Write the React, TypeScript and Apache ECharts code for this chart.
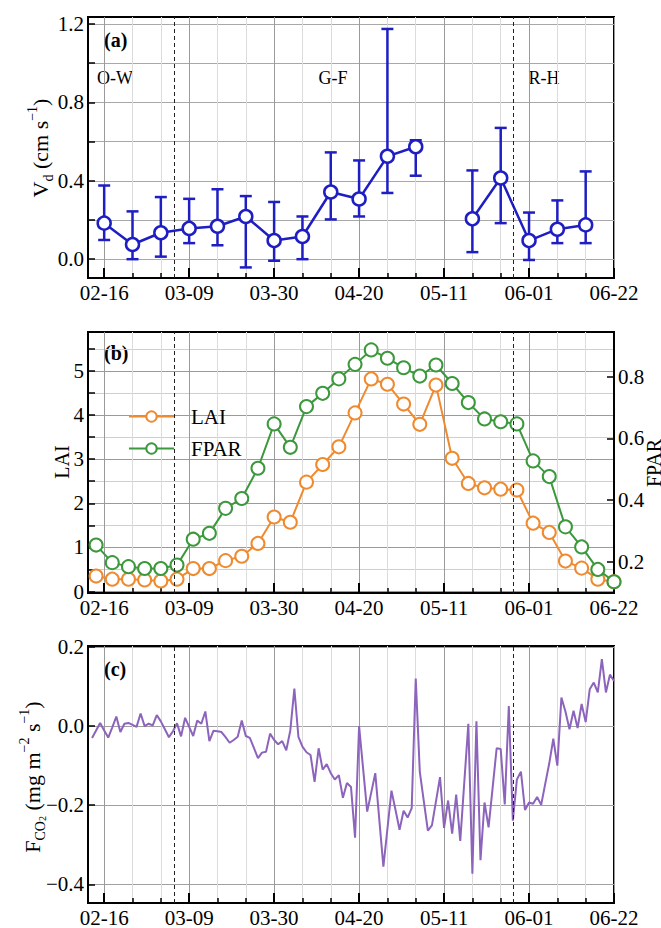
import React, { useEffect, useRef } from 'react';
import * as echarts from 'echarts';

// ---------- shared axis data (days since 02-16) ----------
const xTickDays = [0, 21, 42, 63, 84, 105, 126];
const xTickLabels = ['02-16', '03-09', '03-30', '04-20', '05-11', '06-01', '06-22'];
const xMinorDays = [0, 7, 14, 21, 28, 35, 42, 49, 56, 63, 70, 77, 84, 91, 98, 105, 112, 119, 126];
const phaseBoundaries = [17.4, 101.2];
const phaseNames = ['O-W', 'G-F', 'R-H'];

// ---------- panel (a): Vd ----------
const vdDays = [0, 7, 14, 21, 28, 35, 42, 49, 56, 63, 70, 77, 84, 91, 98, 105, 112, 119];
const vdMean = [0.184, 0.075, 0.135, 0.157, 0.168, 0.218, 0.095, 0.116, 0.343, 0.307, 0.525, 0.574, null, 0.206, 0.414, 0.095, 0.153, 0.175];
const vdLow = [0.098, 0.0, 0.013, 0.082, 0.071, -0.042, -0.008, 0.0, 0.203, 0.218, 0.338, 0.426, null, 0.036, 0.184, -0.004, 0.082, 0.082];
const vdHigh = [0.376, 0.244, 0.317, 0.308, 0.357, 0.322, 0.292, 0.218, 0.545, 0.504, 1.175, 0.607, null, 0.453, 0.670, 0.238, 0.300, 0.448];
const vdTicks = [0, 0.2, 0.4, 0.6, 0.8, 1.0, 1.2];
const vdLabels = [0, 0.4, 0.8, 1.2];

// ---------- panel (b): LAI & FPAR ----------
const laiDays = [-2, 2, 6, 10, 14, 18, 22, 26, 30, 34, 38, 42, 46, 50, 54, 58, 62, 66, 70, 74, 78, 82, 86, 90, 94, 98, 102, 106, 110, 114, 118, 122, 126];
const laiValues = [0.35, 0.28, 0.28, 0.26, 0.24, 0.28, 0.52, 0.52, 0.70, 0.80, 1.09, 1.69, 1.57, 2.48, 2.88, 3.28, 4.05, 4.82, 4.70, 4.25, 3.79, 4.68, 3.02, 2.45, 2.35, 2.32, 2.30, 1.55, 1.34, 0.69, 0.53, 0.28, 0.22];
const fparValues = [0.254, 0.197, 0.184, 0.178, 0.178, 0.189, 0.273, 0.292, 0.373, 0.405, 0.503, 0.647, 0.571, 0.703, 0.746, 0.793, 0.840, 0.887, 0.860, 0.829, 0.802, 0.838, 0.778, 0.716, 0.663, 0.654, 0.647, 0.527, 0.476, 0.313, 0.248, 0.175, 0.135];
const laiTicks = [0, 0.5, 1, 1.5, 2, 2.5, 3, 3.5, 4, 4.5, 5, 5.5];
const laiLabels = [0, 1, 2, 3, 4, 5];
const fparTicks = [0.2, 0.4, 0.6, 0.8];

// ---------- panel (c): FCO2 daily, first day = 02-13 ----------
const fco2StartDay = -3;
const fco2Values = [
  -0.030, -0.011, 0.008, -0.011, -0.029, -0.003, 0.024, -0.015, 0.006, 0.008,
  0.003, -0.002, 0.032, 0.000, 0.006, 0.002, 0.028, 0.012, -0.008, -0.028,
  -0.013, 0.007, -0.026, 0.021, -0.002, -0.025, 0.014, 0.006, 0.037, -0.038,
  -0.012, -0.013, -0.015, -0.028, -0.042, -0.035, -0.027, 0.014, -0.025, -0.030,
  -0.055, -0.081, -0.067, -0.065, -0.019, -0.035, -0.046, -0.038, -0.061, -0.011,
  0.095, -0.027, -0.052, -0.066, -0.073, -0.141, -0.056, -0.110, -0.096, -0.119,
  -0.135, -0.124, -0.181, -0.144, -0.154, -0.282, 0.000, -0.108, -0.216, -0.168,
  -0.119, -0.237, -0.355, -0.260, -0.163, -0.212, -0.262, -0.214, -0.231, -0.207,
  0.120, -0.115, -0.190, -0.264, -0.251, -0.190, -0.129, -0.257, -0.188, -0.272,
  -0.173, -0.290, -0.142, 0.006, -0.373, 0.012, -0.339, -0.193, -0.256, -0.156,
  -0.056, -0.058, -0.198, 0.051, -0.239, -0.135, -0.115, -0.212, -0.193, -0.196,
  -0.179, -0.199, -0.146, -0.094, -0.032, -0.100, 0.072, 0.037, -0.008, 0.039,
  -0.005, 0.056, 0.010, 0.093, 0.110, 0.085, 0.169, 0.085, 0.130, 0.114,
];
const fco2Ticks = [-0.4, -0.2, 0, 0.2];

const FONT = 'Liberation Serif';
const BLUE = '#1e1ec2';
const ORANGE = '#ef8a2e';
const GREEN = '#3c983c';
const PURPLE = '#8c64bc';

const fmtMinus = (v: number) => (v < -1e-9 ? '\u2212' + Math.abs(v).toFixed(1) : Math.abs(v).toFixed(1));

function xAxesFor(gi: number) {
  return [
    {
      type: 'value', gridIndex: gi, min: -4, max: 126, position: 'bottom',
      axisLine: { show: true, onZero: false, lineStyle: { color: '#000', width: 2 } },
      axisTick: { show: true, inside: true, length: 5, customValues: xMinorDays, lineStyle: { color: '#000', width: 1.5 } },
      axisLabel: {
        show: true, customValues: xTickDays, margin: 4,
        formatter: (v: number) => xTickLabels[xTickDays.indexOf(Math.round(v))] ?? '',
        fontFamily: FONT, fontSize: 21, color: '#000',
      },
      splitLine: { show: true, lineStyle: { color: ['#9a9a9a', '#dcdcdc', '#dcdcdc'], width: 1 } },
    },
    {
      type: 'value', gridIndex: gi, min: -4, max: 126, position: 'bottom',
      axisLine: { show: false, onZero: false },
      axisLabel: { show: false },
      splitLine: { show: false },
      axisTick: { show: true, inside: true, length: 10, customValues: xTickDays, lineStyle: { color: '#000', width: 2 } },
    },
  ];
}

function yAxis(gi: number, min: number, max: number, ticks: number[], labels: number[], fmt: (v: number) => string, split: any, position = 'left') {
  return {
    type: 'value', gridIndex: gi, min, max, position,
    axisLine: { show: true, onZero: false, lineStyle: { color: '#000', width: 2 } },
    axisTick: { show: true, inside: true, length: 7, customValues: ticks, lineStyle: { color: '#000', width: 1.5 } },
    axisLabel: { show: true, customValues: labels, formatter: fmt, margin: 4, fontFamily: FONT, fontSize: 21, color: '#000' },
    splitLine: split,
  };
}

const dashedMarks = {
  silent: true,
  symbol: ['none', 'none'],
  label: { show: false },
  lineStyle: { color: '#222', type: [4, 3], width: 1 },
  data: phaseBoundaries.map((d) => ({ xAxis: d })),
};

export default function App() {
  const ref = useRef<HTMLDivElement>(null);
  useEffect(() => {
    document.body.style.margin = '0';
    if (!ref.current) return;
    const chart = echarts.init(ref.current, null, { renderer: 'svg' });

    const errData = vdDays
      .map((d, i) => (vdLow[i] == null ? null : [d, vdLow[i], vdHigh[i]]))
      .filter((x) => x !== null);

    const mainText = { fontFamily: FONT, fontSize: 22, lineHeight: 30, fill: '#000' };
    const supText = { fontFamily: FONT, fontSize: 14, lineHeight: 14, verticalAlign: 'top', fill: '#000' };
    const subText = { fontFamily: FONT, fontSize: 14, lineHeight: 14, verticalAlign: 'bottom', fill: '#000' };
    const sub2Text = { fontFamily: FONT, fontSize: 10, lineHeight: 8, verticalAlign: 'bottom', fill: '#000' };

    const option: any = {
      animation: false,
      backgroundColor: '#fff',
      grid: [
        { left: 88, right: 47, top: 17, height: 261, show: true, borderColor: '#000', borderWidth: 2 },
        { left: 88, right: 47, top: 332, height: 261, show: true, borderColor: '#000', borderWidth: 2 },
        { left: 88, right: 47, top: 646, height: 261, show: true, borderColor: '#000', borderWidth: 2 },
      ],
      xAxis: [...xAxesFor(0), ...xAxesFor(1), ...xAxesFor(2)],
      yAxis: [
        yAxis(0, -0.096, 1.236, vdTicks, vdLabels, (v) => v.toFixed(1),
          { show: true, lineStyle: { color: ['#a8a8a8'], width: 1 } }),
        yAxis(1, -0.034, 5.884, laiTicks, laiLabels, (v) => String(Math.round(v)),
          { show: true, lineStyle: { color: ['#9a9a9a', '#cfcfcf'], width: 1 } }),
        yAxis(1, 0.0985, 0.945, fparTicks, fparTicks, (v) => v.toFixed(1), { show: false }, 'right'),
        yAxis(2, -0.447, 0.2024, fco2Ticks, fco2Ticks, fmtMinus,
          { show: true, lineStyle: { color: ['#a0a0a0'], width: 1 } }),
      ],
      legend: {
        show: true,
        data: ['LAI', 'FPAR'],
        orient: 'vertical',
        left: 123,
        top: 399,
        itemWidth: 45,
        itemHeight: 13,
        itemGap: 7,
        textStyle: { fontFamily: FONT, fontSize: 21, color: '#000', lineHeight: 25, padding: [0, 0, 0, 12] },
      },
      graphic: [
        { type: 'text', x: 104, y: 40, style: { text: '(a)', fontFamily: FONT, fontSize: 20, fontWeight: 'bold', fill: '#000', align: 'left', verticalAlign: 'middle' } },
        { type: 'text', x: 104, y: 353, style: { text: '(b)', fontFamily: FONT, fontSize: 20, fontWeight: 'bold', fill: '#000', align: 'left', verticalAlign: 'middle' } },
        { type: 'text', x: 104, y: 669, style: { text: '(c)', fontFamily: FONT, fontSize: 20, fontWeight: 'bold', fill: '#000', align: 'left', verticalAlign: 'middle' } },
        { type: 'text', x: 97, y: 78, style: { text: phaseNames[0], fontFamily: FONT, fontSize: 18, fill: '#000', align: 'left', verticalAlign: 'middle' } },
        { type: 'text', x: 333, y: 78, style: { text: phaseNames[1], fontFamily: FONT, fontSize: 18, fill: '#000', align: 'center', verticalAlign: 'middle' } },
        { type: 'text', x: 544, y: 78, style: { text: phaseNames[2], fontFamily: FONT, fontSize: 18, fill: '#000', align: 'center', verticalAlign: 'middle' } },
        {
          type: 'text', x: 40, y: 148, rotation: Math.PI / 2,
          style: {
            text: '{m|V}{s|d}{m| (cm s}{p|\u22121}{m|)}',
            rich: { m: mainText, s: subText, p: supText },
            align: 'center', verticalAlign: 'middle',
          },
        },
        { type: 'text', x: 62, y: 462, rotation: Math.PI / 2, style: { text: 'LAI', fontFamily: FONT, fontSize: 20, fill: '#000', align: 'center', verticalAlign: 'middle' } },
        { type: 'text', x: 654, y: 463, rotation: Math.PI / 2, style: { text: 'FPAR', fontFamily: FONT, fontSize: 20, fill: '#000', align: 'center', verticalAlign: 'middle' } },
        {
          type: 'text', x: 32, y: 777, rotation: Math.PI / 2,
          style: {
            text: '{m|F}{s|CO}{q|2}{m| (mg m}{p|\u22122}{m| s}{p|\u22121}{m|)}',
            rich: { m: mainText, s: subText, q: sub2Text, p: supText },
            align: 'center', verticalAlign: 'middle',
          },
        },
      ],
      series: [
        {
          type: 'custom', name: 'Vd error', xAxisIndex: 0, yAxisIndex: 0,
          encode: { x: 0, y: [1, 2] },
          data: errData,
          z: 2,
          renderItem: (params: any, api: any) => {
            const x = api.value(0);
            const pLo = api.coord([x, api.value(1)]);
            const pHi = api.coord([x, api.value(2)]);
            const cap = 6;
            const style = { stroke: BLUE, lineWidth: 2.5, fill: 'none' };
            return {
              type: 'group',
              children: [
                { type: 'line', shape: { x1: pLo[0], y1: pLo[1], x2: pHi[0], y2: pHi[1] }, style },
                { type: 'line', shape: { x1: pLo[0] - cap, y1: pLo[1], x2: pLo[0] + cap, y2: pLo[1] }, style },
                { type: 'line', shape: { x1: pHi[0] - cap, y1: pHi[1], x2: pHi[0] + cap, y2: pHi[1] }, style },
              ],
            };
          },
        },
        {
          type: 'line', name: 'Vd', xAxisIndex: 0, yAxisIndex: 0, z: 3,
          data: vdDays.map((d, i) => [d, vdMean[i] == null ? '-' : vdMean[i]]),
          symbol: 'circle', symbolSize: 13, showAllSymbol: true,
          itemStyle: { color: '#fff', borderColor: BLUE, borderWidth: 2.5 },
          lineStyle: { color: BLUE, width: 2.5 },
          markLine: dashedMarks,
        },
        {
          type: 'line', name: 'LAI', xAxisIndex: 2, yAxisIndex: 1, z: 3,
          data: laiDays.map((d, i) => [d, laiValues[i]]),
          symbol: 'circle', symbolSize: 13, showAllSymbol: true,
          itemStyle: { color: '#fff', borderColor: ORANGE, borderWidth: 2 },
          lineStyle: { color: ORANGE, width: 2 },
          markLine: dashedMarks,
        },
        {
          type: 'line', name: 'FPAR', xAxisIndex: 2, yAxisIndex: 2, z: 4,
          data: laiDays.map((d, i) => [d, fparValues[i]]),
          symbol: 'circle', symbolSize: 13, showAllSymbol: true,
          itemStyle: { color: '#fff', borderColor: GREEN, borderWidth: 2 },
          lineStyle: { color: GREEN, width: 2 },
        },
        {
          type: 'line', name: 'FCO2', xAxisIndex: 4, yAxisIndex: 3, z: 3,
          data: fco2Values.map((v, i) => [fco2StartDay + i, v]),
          showSymbol: false, symbol: 'none',
          lineStyle: { color: PURPLE, width: 2 },
          markLine: dashedMarks,
        },
      ],
    };
    chart.setOption(option);
    return () => chart.dispose();
  }, []);
  return <div ref={ref} style={{ width: 661, height: 928 }} />;
}
